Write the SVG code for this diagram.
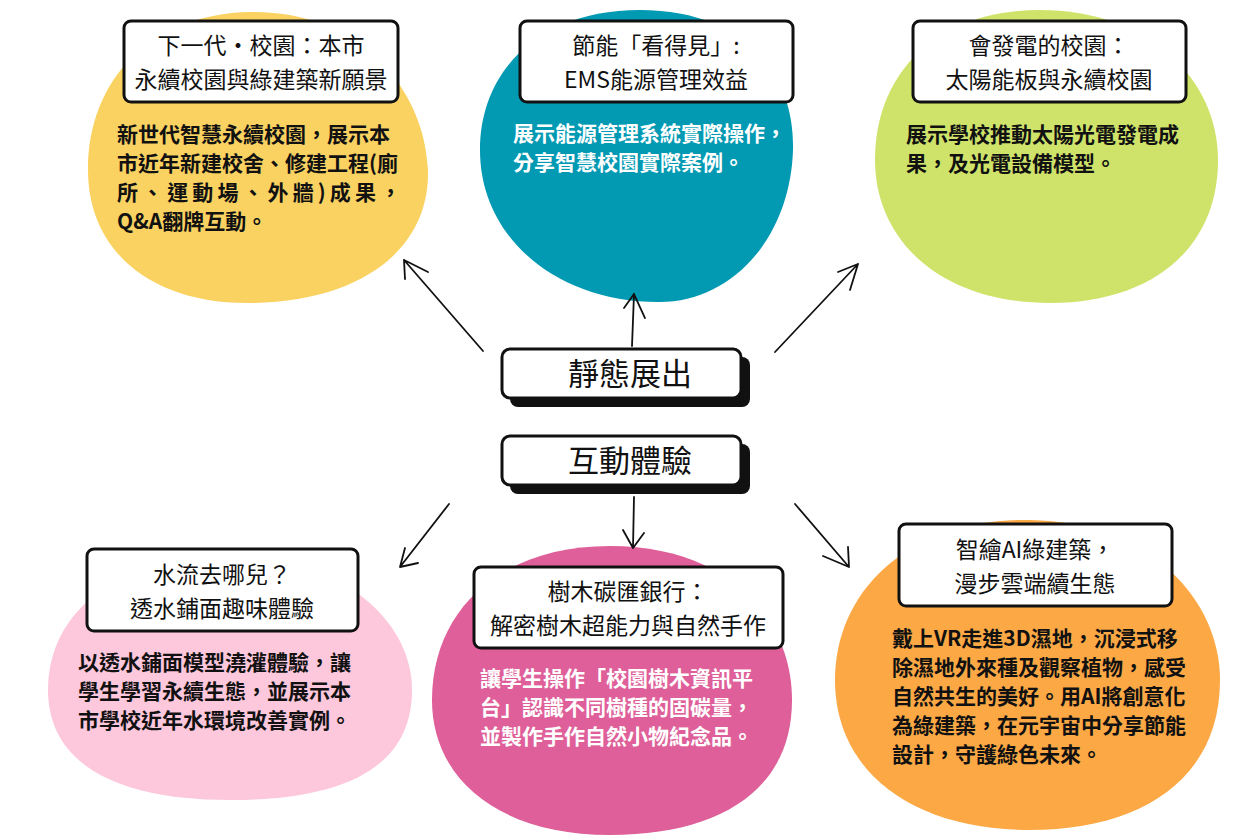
<svg xmlns="http://www.w3.org/2000/svg" width="1260" height="840" viewBox="0 0 1260 840">
<defs>
<style>
.t{font-family:"Noto Sans CJK TC","Noto Sans",sans-serif;font-size:23px;fill:#111;text-anchor:middle}
.b{font-family:"Noto Sans CJK TC","Noto Sans",sans-serif;font-size:21px;font-weight:bold;fill:#111}
.w{fill:#fff}
.box{fill:#fff;stroke:#111;stroke-width:3}
.c{font-family:"Noto Sans CJK TC","Noto Sans",sans-serif;font-size:31px;fill:#111;text-anchor:middle}
.a{stroke:#111;stroke-width:1.8;fill:none;stroke-linecap:round}
</style>
</defs>
<rect width="1260" height="840" fill="#fff"/>
<g id="n1">
<path d="M250 12 C360 10 425 90 428 170 C430 250 360 302 250 303 C150 304 88 250 88 170 C88 80 150 14 250 12Z" fill="#fad261"/>
<rect class="box" x="124" y="21" width="274" height="81" rx="7"/>
<text class="t" x="261" y="54">下一代・校園：本市</text>
<text class="t" x="261" y="88">永續校園與綠建築新願景</text>
<text class="b" x="117" y="142">新世代智慧永續校園，展示本</text>
<text class="b" x="117" y="171">市近年新建校舍、修建工程(廁</text>
<text class="b" x="117" y="200" textLength="284" lengthAdjust="spacing">所、運動場、外牆)成果，</text>
<text class="b" x="117" y="229">Q&amp;A翻牌互動。</text>
</g>
<g id="n2">
<path d="M640 10 C740 10 795 70 793 150 C790 240 730 302 660 302 C560 303 480 240 480 150 C480 70 540 10 640 10Z" fill="#0299b3"/>
<rect class="box" x="520" y="21" width="273" height="81" rx="7"/>
<text class="t" x="656" y="54">節能「看得見」:</text>
<text class="t" x="656" y="88">EMS能源管理效益</text>
<text class="b w" x="513" y="141">展示能源管理系統實際操作，</text>
<text class="b w" x="513" y="170">分享智慧校園實際案例。</text>
</g>
<g id="n3">
<path d="M1040 10 C1150 10 1218 80 1218 160 C1218 250 1150 303 1050 303 C940 303 875 240 875 160 C875 70 940 10 1040 10Z" fill="#cfe36a"/>
<rect class="box" x="913" y="21" width="273" height="81" rx="7"/>
<text class="t" x="1049" y="54">會發電的校園：</text>
<text class="t" x="1049" y="88">太陽能板與永續校園</text>
<text class="b" x="906" y="142">展示學校推動太陽光電發電成</text>
<text class="b" x="906" y="171">果，及光電設備模型。</text>
</g>
<g id="n4">
<path d="M230 556 C340 556 412 620 412 690 C412 770 340 800 230 800 C110 800 48 760 48 690 C48 610 120 556 230 556Z" fill="#fdc7dc"/>
<rect class="box" x="87" y="549" width="271" height="82" rx="7"/>
<text class="t" x="222" y="583">水流去哪兒？</text>
<text class="t" x="222" y="617">透水鋪面趣味體驗</text>
<text class="b" x="78" y="670">以透水鋪面模型澆灌體驗，讓</text>
<text class="b" x="78" y="699">學生學習永續生態，並展示本</text>
<text class="b" x="78" y="728">市學校近年水環境改善實例。</text>
</g>
<g id="n5">
<path d="M610 546 C730 546 792 620 792 700 C792 790 720 835 610 835 C500 835 432 780 432 700 C432 610 500 546 610 546Z" fill="#de5f99"/>
<rect class="box" x="474" y="567" width="309" height="81" rx="7"/>
<text class="t" x="628" y="600">樹木碳匯銀行：</text>
<text class="t" x="628" y="634">解密樹木超能力與自然手作</text>
<text class="b w" x="480" y="686">讓學生操作「校園樹木資訊平</text>
<text class="b w" x="480" y="715">台」認識不同樹種的固碳量，</text>
<text class="b w" x="480" y="744">並製作手作自然小物紀念品。</text>
</g>
<g id="n6">
<path d="M1030 520 C1150 522 1220 600 1220 680 C1220 780 1140 830 1030 830 C910 830 835 770 835 680 C835 590 910 518 1030 520Z" fill="#fba845"/>
<rect class="box" x="899" y="524" width="273" height="82" rx="7"/>
<text class="t" x="1035" y="558">智繪AI綠建築，</text>
<text class="t" x="1035" y="592">漫步雲端續生態</text>
<text class="b" x="892" y="646">戴上VR走進3D濕地，沉浸式移</text>
<text class="b" x="892" y="675">除濕地外來種及觀察植物，感受</text>
<text class="b" x="892" y="704">自然共生的美好。用AI將創意化</text>
<text class="b" x="892" y="733">為綠建築，在元宇宙中分享節能</text>
<text class="b" x="892" y="762">設計，守護綠色未來。</text>
</g>
<g id="static">
<rect x="510" y="357" width="240" height="50" rx="8" fill="#111"/>
<rect class="box" x="502" y="349" width="239" height="49" rx="8"/>
<text class="c" x="630" y="385">靜態展出</text>
</g>
<g id="interactive">
<rect x="510" y="444" width="240" height="50" rx="8" fill="#111"/>
<rect class="box" x="502" y="436" width="239" height="49" rx="8"/>
<text class="c" x="630" y="472">互動體驗</text>
</g>
<g id="connectors">
<path class="a" d="M483 351 L404 260 M404 260 L405 279 M404 260 L428 272"/>
<path class="a" d="M632 346 L634 294 M634 294 L624 308 M634 294 L645 318"/>
<path class="a" d="M775 352 L858 264 M858 264 L838 272 M858 264 L850 290"/>
<path class="a" d="M449 504 L400 567 M400 567 L405 548 M400 567 L418 563"/>
<path class="a" d="M634 497 L633 548 M633 548 L623 530 M633 548 L644 533"/>
<path class="a" d="M795 504 L849 567 M849 567 L823 556 M849 567 L848 547"/>
</g>
</svg>
